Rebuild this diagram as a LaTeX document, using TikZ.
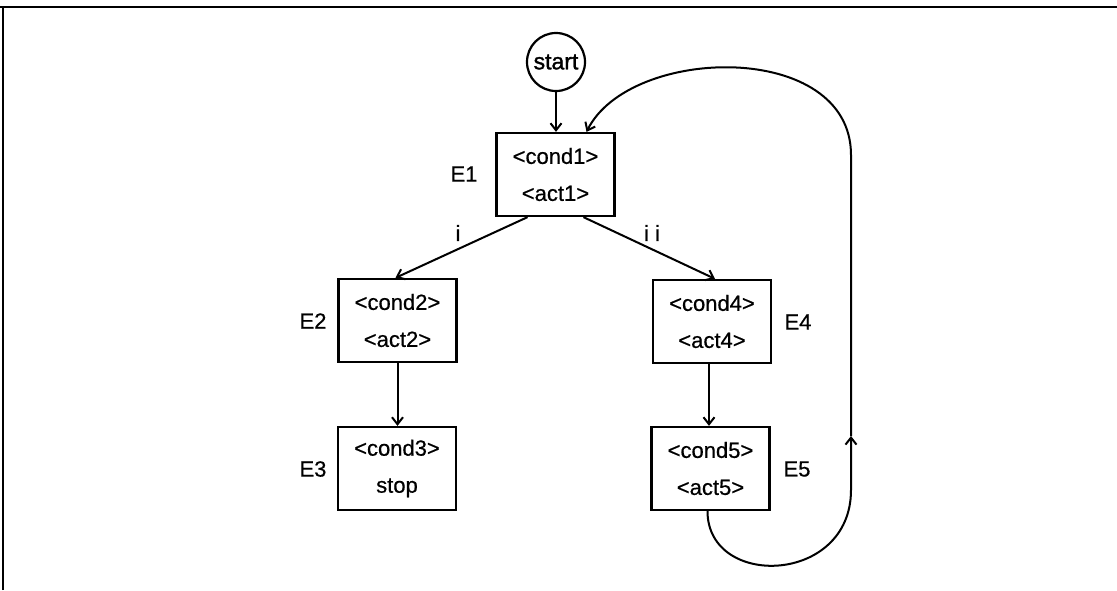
\documentclass[tikz,border=0pt]{standalone}
\usepackage{fontspec}
\setmainfont{Liberation Sans}[FakeBold=0.6]
\newfontfamily\heavy{Liberation Sans}[FakeBold=1.4]
\usetikzlibrary{arrows.meta,positioning}
\begin{document}
\begin{tikzpicture}[x=1pt,y=-1pt,
  every node/.style={font=\fontsize{22}{37}\selectfont},
  statebox/.style={draw,line width=2.3pt,minimum width=118pt,minimum height=83pt,align=center,inner sep=0pt},
  startnode/.style={draw,circle,line width=2.2pt,minimum size=58pt,inner sep=0pt,font=\fontsize{23}{28}\selectfont\heavy},
  tag/.style={inner sep=0pt},
  conn/.style={line width=2pt,-{Straight Barb[length=7pt,width=11pt,line width=2pt]}},
  loopline/.style={line width=2pt}
]
\useasboundingbox (0,0) rectangle (1117,590);
% frame
\draw[line width=2.2pt] (0,7) -- (1117,7);
\draw[line width=1.2pt] (3,590) -- (3,7);

% nodes
\node[startnode] (start) at (556,62) {start};
\node[statebox] (E1) at (555.5,174.5) {<cond1>\\<act1>};
\node[statebox] (E2) at (397.5,320.5) {<cond2>\\<act2>};
\node[statebox] (E3) at (397,468.5) {<cond3>\\stop};
\node[statebox] (E4) at (712,321.5) {<cond4>\\<act4>};
\node[statebox] (E5) at (710.5,468.5) {<cond5>\\<act5>};

\node[tag] (l1) at (464,174) {E1};
\node[tag] (l2) at (313,321) {E2};
\node[tag] (l3) at (313,469) {E3};
\node[tag] (l4) at (798,322) {E4};
\node[tag] (l5) at (797,469) {E5};
\node[tag] (li) at (458,233) {i};
\node[tag] (lii) at (652,233) {i i};

% connection points
\coordinate (e1l) at ([xshift=-28pt]E1.south);
\coordinate (e1r) at ([xshift=28pt]E1.south);
\coordinate (e2t) at ([xshift=-2pt]E2.north);
\coordinate (e4t) at ([xshift=3pt]E4.north);
\coordinate (e1in) at ([xshift=31pt]E1.north);
\coordinate (e5out) at ([xshift=-3pt]E5.south);
\coordinate (mid) at (851,436);
\coordinate (rtop) at (851,155);

% connectors
\draw[conn] (start.south) -- (start.south |- E1.north);
\draw[conn] (e1l) -- (e2t);
\draw[conn] (e1r) -- (e4t);
\draw[conn] (E2.south) -- (E2.south |- E3.north);
\draw[conn] ([xshift=-3pt]E4.south) -- ([xshift=-3pt]E4.south |- E5.north);
\draw[conn] (e5out) .. controls +(0,78) and (851,585) .. (851,490) -- (mid);
\draw[conn] (mid) -- (rtop) .. controls (851,40) and (630,45) .. (e1in);
\end{tikzpicture}
\end{document}
